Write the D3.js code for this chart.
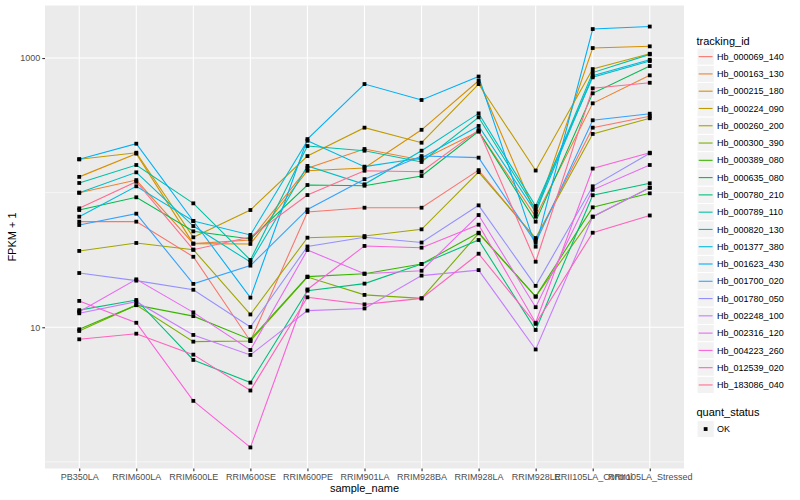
<!DOCTYPE html>
<html><head><meta charset="utf-8">
<script src="https://cdn.jsdelivr.net/npm/d3@7"></script>
<style>body{margin:0;background:#fff}</style>
</head><body><svg id="c" width="800" height="500"></svg>
<script>
const sampleNames = ["PB350LA","RRIM600LA","RRIM600LE","RRIM600SE","RRIM600PE","RRIM901LA","RRIM928BA","RRIM928LA","RRIM928LE","RRII105LA_Control","RRII105LA_Stressed"];
const trackingIds = ["Hb_000069_140","Hb_000163_130","Hb_000215_180","Hb_000224_090","Hb_000260_200","Hb_000300_390","Hb_000389_080","Hb_000635_080","Hb_000780_210","Hb_000789_110","Hb_000820_130","Hb_001377_380","Hb_001623_430","Hb_001700_020","Hb_001780_050","Hb_002248_100","Hb_002316_120","Hb_004223_260","Hb_012539_020","Hb_183086_040"];
const quantStatus = ["OK"];
const yTickValues = [10, 1000];
const yMinorValues = [1, 100];

// FPKM + 1 for each tracking_id, in sampleNames order
const hb_000069_140 = [60.9, 60.9, 33.4, 7.91, 71.8, 77.3, 77.3, 147, 45.0, 304, 369];
const hb_000163_130 = [99.9, 124, 41.8, 44.5, 152, 211, 175, 285, 66.3, 461, 744];
const hb_000215_180 = [131, 195, 41.8, 41.6, 145.5, 152.5, 293, 678, 69.4, 1187, 1222];
const hb_000224_090 = [177, 198, 46.6, 74.3, 187, 304, 235, 641, 146, 828, 1076];
const hb_000260_200 = [36.9, 42.3, 37.7, 12.45, 46.3, 47.6, 53.4, 142, 46.0, 273, 357];
const hb_000300_390 = [9.39, 14.6, 7.82, 7.91, 23.6, 17.4, 16.4, 49.9, 16.9, 66.3, 108.8];
const hb_000389_080 = [9.66, 14.6, 12.1, 8.12, 23.8, 25.0, 29.5, 50.4, 16.9, 77.8, 98.9];
const hb_000635_080 = [74.3, 92.4, 51.6, 45.3, 114, 112.6, 133, 285, 60.9, 547, 872];
const hb_000780_210 = [13.4, 15.95, 5.72, 3.88, 18.7, 21.1, 29.5, 44.5, 9.55, 95.7, 117.3];
const hb_000789_110 = [118, 160.5, 83.3, 31.6, 222, 205, 169, 363, 75.2, 780, 1065];
const hb_000820_130 = [99.9, 141.6, 56.5, 30.5, 158, 115.3, 205, 388, 79.6, 719, 950];
const hb_001377_380 = [66.3, 111.5, 61.6, 48.5, 243, 156, 181, 313, 71.8, 739, 971];
const hb_001623_430 = [177, 231, 61.6, 16.6, 250, 641, 488, 729, 39.7, 1642, 1714];
const hb_001700_020 = [57.5, 69.8, 21.0, 28.7, 75, 126, 187, 182, 42.5, 345, 386];
const hb_001780_050 = [25.3, 22.2, 19.0, 10.05, 39.8, 46.6, 42.6, 80.5, 20.3, 111.5, 196];
const hb_002248_100 = [12.7, 15.5, 8.77, 6.23, 13.3, 13.8, 24.2, 26.6, 6.84, 66.3, 108.8];
const hb_002316_120 = [13.06, 22.7, 12.9, 6.78, 37.5, 25.0, 26.3, 68.2, 14.1, 105, 160.5];
const hb_004223_260 = [15.7, 10.8, 2.84, 1.28, 19.1, 40.2, 39.0, 57.8, 10.8, 151, 198];
const hb_012539_020 = [8.14, 8.96, 6.26, 3.39, 16.7, 14.8, 16.4, 35.2, 10.6, 50.4, 67.7];
const hb_183086_040 = [76.5, 120.6, 37.7, 46.8, 96, 145.5, 143, 292, 30.7, 596, 655];

const seriesValues = [hb_000069_140, hb_000163_130, hb_000215_180, hb_000224_090, hb_000260_200,
  hb_000300_390, hb_000389_080, hb_000635_080, hb_000780_210, hb_000789_110, hb_000820_130,
  hb_001377_380, hb_001623_430, hb_001700_020, hb_001780_050, hb_002248_100, hb_002316_120,
  hb_004223_260, hb_012539_020, hb_183086_040];

const palette = ["#F8766D","#EA8331","#D89000","#C09B00","#A3A500","#7CAE00","#39B600","#00BB4E","#00BF7D","#00C1A3","#00BFC4","#00BAE0","#00B0F6","#35A2FF","#9590FF","#C77CFF","#E76BF3","#FA62DB","#FF62BC","#FF6C91"];

const series = trackingIds.map((id, i) => ({
  id, color: palette[i],
  points: sampleNames.map((s, j) => ({sample: s, value: seriesValues[i][j]}))
}));

const font = "'Liberation Sans', Arial, Helvetica, sans-serif";
const panel = {left: 45, right: 684, top: 5.5, bottom: 468.5};
const svg = d3.select('#c').style('font-family', font);

const x = d3.scalePoint().domain(sampleNames).range([panel.left, panel.right]).padding(0.6);
const ext = d3.extent(seriesValues.flat()).map(Math.log10);
const pad = (ext[1] - ext[0]) * 0.05;
const y = d3.scaleLog().domain([10 ** (ext[0] - pad), 10 ** (ext[1] + pad)]).range([panel.bottom, panel.top]);

// panel
svg.append('rect').attr('x', panel.left).attr('y', panel.top)
  .attr('width', panel.right - panel.left).attr('height', panel.bottom - panel.top).attr('fill', '#EBEBEB');

const grid = svg.append('g');
grid.selectAll('line.minor').data(yMinorValues).join('line')
  .attr('x1', panel.left).attr('x2', panel.right)
  .attr('y1', d => y(d)).attr('y2', d => y(d))
  .attr('stroke', '#fff').attr('stroke-width', 0.55);
grid.selectAll('line.majy').data(yTickValues).join('line')
  .attr('x1', panel.left).attr('x2', panel.right)
  .attr('y1', d => y(d)).attr('y2', d => y(d))
  .attr('stroke', '#fff').attr('stroke-width', 1.1);
grid.selectAll('line.majx').data(sampleNames).join('line')
  .attr('y1', panel.top).attr('y2', panel.bottom)
  .attr('x1', d => x(d)).attr('x2', d => x(d))
  .attr('stroke', '#fff').attr('stroke-width', 1.1);

// lines
const line = d3.line().x(d => x(d.sample)).y(d => y(d.value));
svg.append('g').selectAll('path').data(series).join('path')
  .attr('d', d => line(d.points)).attr('fill', 'none')
  .attr('stroke', d => d.color).attr('stroke-width', 1.1);

// points
const pts = series.flatMap(s => s.points);
const ps = 3.8;
svg.append('g').selectAll('rect').data(pts).join('rect')
  .attr('x', d => x(d.sample) - ps / 2).attr('y', d => y(d.value) - ps / 2)
  .attr('width', ps).attr('height', ps).attr('fill', '#000');

// axes
const yAxis = svg.append('g').attr('transform', `translate(${panel.left},0)`)
  .call(d3.axisLeft(y).tickValues(yTickValues).tickFormat(d3.format('d')).tickSize(2.7).tickPadding(2));
const xAxis = svg.append('g').attr('transform', `translate(0,${panel.bottom})`)
  .call(d3.axisBottom(x).tickSize(2.7).tickPadding(2.2));
[yAxis, xAxis].forEach(a => {
  a.select('.domain').remove();
  a.selectAll('.tick line').attr('stroke', '#333333').attr('stroke-width', 1.1);
  a.selectAll('.tick text').attr('fill', '#4D4D4D').style('font-size', '9px').style('font-family', font);
});

// axis titles
svg.append('text').attr('x', (panel.left + panel.right) / 2).attr('y', 492)
  .attr('text-anchor', 'middle').style('font-size', '11px').attr('fill', '#000').text('sample_name');
svg.append('text').attr('transform', `translate(16,${(panel.top + panel.bottom) / 2}) rotate(-90)`)
  .attr('text-anchor', 'middle').style('font-size', '11px').attr('fill', '#000').text('FPKM + 1');

// legend
const lg = svg.append('g');
const keyX = 697, keyS = 17.28, keyTop = 48;
lg.append('text').attr('x', 696.5).attr('y', 44.5).style('font-size', '11px').text('tracking_id');
const rows = lg.selectAll('g.row').data(series).join('g')
  .attr('transform', (d, i) => `translate(${keyX},${keyTop + i * keyS})`);
rows.append('rect').attr('width', keyS).attr('height', keyS).attr('fill', '#F2F2F2').attr('stroke', '#fff').attr('stroke-width', 1);
rows.append('line').attr('x1', 1.7).attr('x2', keyS - 1.7).attr('y1', keyS / 2).attr('y2', keyS / 2)
  .attr('stroke', d => d.color).attr('stroke-width', 1.1);
rows.append('text').attr('x', keyS + 2.8).attr('y', keyS / 2).attr('dy', '0.35em')
  .style('font-size', '9px').text(d => d.id);

lg.append('text').attr('x', 696.5).attr('y', 416).style('font-size', '11px').text('quant_status');
const qrows = lg.selectAll('g.q').data(quantStatus).join('g')
  .attr('transform', (d, i) => `translate(${keyX},${420.4 + i * keyS})`);
qrows.append('rect').attr('width', keyS).attr('height', keyS).attr('fill', '#F2F2F2').attr('stroke', '#fff');
qrows.append('rect').attr('x', keyS / 2 - ps / 2).attr('y', keyS / 2 - ps / 2).attr('width', ps).attr('height', ps).attr('fill', '#000');
qrows.append('text').attr('x', keyS + 2.8).attr('y', keyS / 2).attr('dy', '0.35em')
  .style('font-size', '9px').text(d => d);
</script></body></html>
